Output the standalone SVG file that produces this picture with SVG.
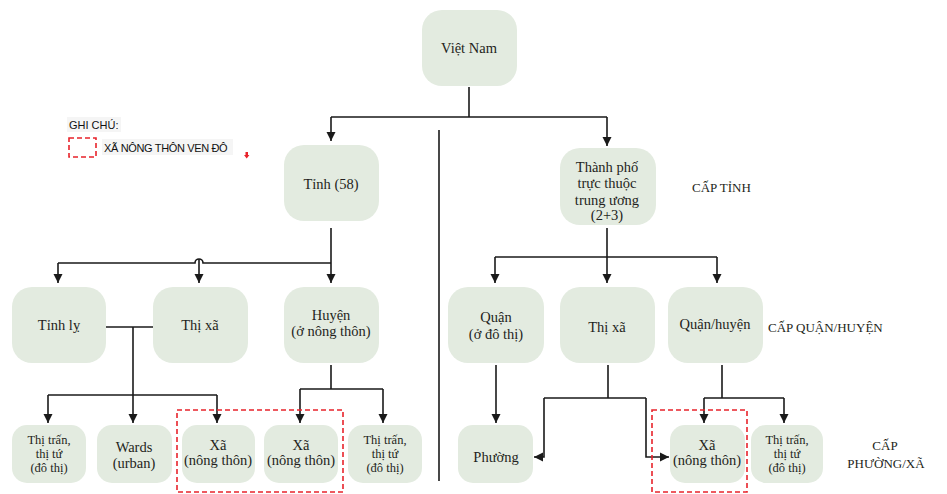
<svg xmlns="http://www.w3.org/2000/svg" width="947" height="494" viewBox="0 0 947 494">
<defs>
<style>
.box{fill:#e3ebe0;}
.t{font-family:"Liberation Serif","Times New Roman",serif;font-size:14.5px;fill:#231f20;text-anchor:middle;}
.s{font-size:12.5px;}
.lvl{font-family:"Liberation Serif","Times New Roman",serif;font-size:13px;fill:#231f20;}
.lg{font-family:"Liberation Sans",Arial,sans-serif;font-size:11px;fill:#111;}
.c{fill:none;stroke:#1a1a1a;stroke-width:1.6;}
.red{fill:none;stroke:#e8232b;stroke-width:1.6;stroke-dasharray:5 3;}
</style>
<marker id="ah" viewBox="0 0 10 10" refX="10" refY="5" markerWidth="9" markerHeight="10" markerUnits="userSpaceOnUse" orient="auto">
<path d="M0,0 L10,5 L0,10 z" fill="#1a1a1a"/>
</marker>
</defs>
<rect width="947" height="494" fill="#ffffff"/>

<g id="legend">
<rect x="67" y="117" width="54" height="15" fill="#f5f5f5"/>
<text class="lg" x="69" y="129">GHI CHÚ:</text>
<rect x="69" y="138" width="27" height="19" class="red"/>
<rect x="102" y="139" width="131" height="16" fill="#f5f5f5"/>
<text class="lg" x="104" y="151.5" letter-spacing="-0.35">XÃ NÔNG THÔN VEN ĐÔ</text>
<path d="M245.5,152 V155 H244 L246.7,158.5 L249.4,155 H248 V152 z" fill="#e8232b"/>
</g>

<g id="connectors">
<path class="c" d="M469,87 V117 M331,117 H607"/>
<path class="c" d="M331,117 V141" marker-end="url(#ah)"/>
<path class="c" d="M607,117 V146" marker-end="url(#ah)"/>
<path class="c" d="M439,130 V481" stroke-width="2"/>
<path class="c" d="M331,228 V283" marker-end="url(#ah)"/>
<path class="c" d="M58,263 H195 A4,4 0 0 1 203,263 H331"/>
<path class="c" d="M58,263 V283" marker-end="url(#ah)"/>
<path class="c" d="M199,259 V283" marker-end="url(#ah)"/>
<path class="c" d="M106,327 H153"/>
<path class="c" d="M133,327 V423" marker-end="url(#ah)"/>
<path class="c" d="M48,395 H217"/>
<path class="c" d="M48,395 V423" marker-end="url(#ah)"/>
<path class="c" d="M217,395 V423" marker-end="url(#ah)"/>
<path class="c" d="M331,365 V389 M300,389 H383"/>
<path class="c" d="M300,389 V423" marker-end="url(#ah)"/>
<path class="c" d="M383,389 V423" marker-end="url(#ah)"/>
<path class="c" d="M607,228 V283" marker-end="url(#ah)"/>
<path class="c" d="M495,257 H717"/>
<path class="c" d="M495,257 V283" marker-end="url(#ah)"/>
<path class="c" d="M717,257 V283" marker-end="url(#ah)"/>
<path class="c" d="M496,365 V423" marker-end="url(#ah)"/>
<path class="c" d="M608,365 V398 M544,398 H646"/>
<path class="c" d="M544,398 V457 H534" marker-end="url(#ah)"/>
<path class="c" d="M646,398 V457 H669" marker-end="url(#ah)"/>
<path class="c" d="M722,365 V398 M704,398 H784"/>
<path class="c" d="M704,398 V423" marker-end="url(#ah)"/>
<path class="c" d="M784,398 V423" marker-end="url(#ah)"/>
</g>

<g id="vietnam"><rect class="box" x="422" y="10" width="95" height="76" rx="20"/><text class="t" x="469" y="53">Việt Nam</text></g>
<g id="tinh"><rect class="box" x="284" y="145" width="95" height="76" rx="20"/><text class="t" x="331" y="189">Tỉnh (58)</text></g>
<g id="thanhpho"><rect class="box" x="560" y="148" width="96" height="77" rx="20"/>
<text class="t" x="607" y="172">Thành phố</text><text class="t" x="607" y="188">trực thuộc</text><text class="t" x="607" y="205">trung ương</text><text class="t" x="607" y="220">(2+3)</text></g>

<g id="tinhly"><rect class="box" x="12" y="287" width="94" height="76" rx="20"/><text class="t" x="59" y="330">Tỉnh lỵ</text></g>
<g id="thixa-l"><rect class="box" x="153" y="287" width="95" height="76" rx="20"/><text class="t" x="200" y="330">Thị xã</text></g>
<g id="huyen"><rect class="box" x="284" y="287" width="95" height="76" rx="20"/><text class="t" x="331" y="320">Huyện</text><text class="t" x="331" y="336">(ở nông thôn)</text></g>

<g id="quan"><rect class="box" x="448" y="287" width="96" height="76" rx="20"/><text class="t" x="496" y="322">Quận</text><text class="t" x="496" y="339">(ở đô thị)</text></g>
<g id="thixa-r"><rect class="box" x="560" y="287" width="95" height="76" rx="20"/><text class="t" x="607" y="332">Thị xã</text></g>
<g id="quanhuyen"><rect class="box" x="668" y="287" width="95" height="76" rx="20"/><text class="t" x="715" y="329">Quận/huyện</text></g>

<g id="thitran-1"><rect class="box" x="12" y="425" width="74" height="58" rx="15"/><text class="t s" x="49" y="444">Thị trấn,</text><text class="t s" x="49" y="458">thị tứ</text><text class="t s" x="49" y="472">(đô thị)</text></g>
<g id="wards"><rect class="box" x="97" y="425" width="75" height="58" rx="15"/><text class="t" x="134" y="452">Wards</text><text class="t" x="134" y="468">(urban)</text></g>
<g id="xa-1"><rect class="box" x="182" y="425" width="73" height="58" rx="15"/><text class="t" x="218" y="450">Xã</text><text class="t" x="218" y="465">(nông thôn)</text></g>
<g id="xa-2"><rect class="box" x="264" y="425" width="74" height="58" rx="15"/><text class="t" x="301" y="450">Xã</text><text class="t" x="301" y="465">(nông thôn)</text></g>
<g id="thitran-2"><rect class="box" x="348" y="425" width="74" height="58" rx="15"/><text class="t s" x="385" y="444">Thị trấn,</text><text class="t s" x="385" y="458">thị tứ</text><text class="t s" x="385" y="472">(đô thị)</text></g>

<g id="phuong"><rect class="box" x="458" y="425" width="75" height="58" rx="15"/><text class="t" x="496" y="462">Phường</text></g>
<g id="xa-r"><rect class="box" x="670" y="425" width="75" height="58" rx="15"/><text class="t" x="707" y="450">Xã</text><text class="t" x="707" y="465">(nông thôn)</text></g>
<g id="thitran-r"><rect class="box" x="751" y="425" width="72" height="58" rx="15"/><text class="t s" x="787" y="444">Thị trấn,</text><text class="t s" x="787" y="458">thị tứ</text><text class="t s" x="787" y="472">(đô thị)</text></g>

<g id="dashed">
<rect x="177" y="410" width="166" height="82" class="red"/>
<rect x="652" y="410" width="95" height="82" class="red"/>
</g>

<g id="levels">
<text class="lvl" x="692" y="192">CẤP TỈNH</text>
<text class="lvl" x="768" y="332">CẤP QUẬN/HUYỆN</text>
<text class="lvl" x="885" y="450" text-anchor="middle" font-size="16">CẤP</text>
<text class="lvl" x="886" y="468" text-anchor="middle" font-size="16">PHƯỜNG/XÃ</text>
</g>
</svg>
